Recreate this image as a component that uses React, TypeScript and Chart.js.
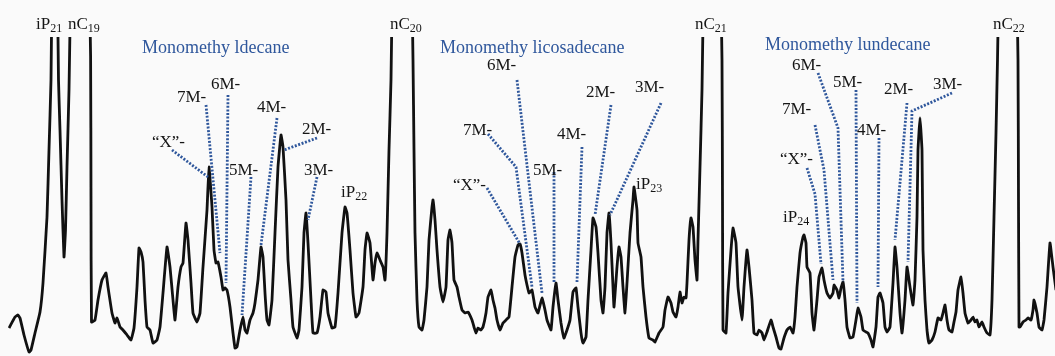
import React, { useEffect, useRef } from "react";
import { Chart, registerables } from "chart.js";

Chart.register(...registerables);

// Chromatogram trace: [scan position, detector response]
const trace: [number, number][] = [
  [9, 28], [15, 39], [18, 41], [20, 38], [24, 21], [29, 4], [31, 6], [35, 23], [40, 44], [43, 73],
  [47, 139], [49, 206], [51, 276], [54.5, 600], [58.5, 276], [60, 226], [62, 156], [64, 99], [65.5, 126],
  [67, 189], [69, 266], [80, 900], [90.6, 300], [91, 156], [91.5, 34],
  [95, 36], [98, 56], [102, 76], [106, 83], [108, 69], [112, 43], [115, 33], [117, 38], [120, 29],
  [123, 26], [127, 21], [131, 16], [134, 28], [137, 69], [139, 108], [141, 104], [143, 94], [145, 56],
  [147, 29], [150, 26], [153, 13], [157, 16], [160, 29], [163, 63], [167, 109], [170, 89], [173, 56],
  [175, 36], [178, 69], [181, 89], [183, 93], [186, 133], [188, 116], [191, 73], [193, 43], [197, 34],
  [200, 43], [203, 89], [207, 146], [209, 189], [212, 149], [214, 106], [216, 93], [218, 94], [221, 79],
  [223, 66], [225, 68], [227, 66], [230, 49], [233, 23], [235, 8], [237, 9], [240, 26], [243, 39],
  [245, 26], [247, 23], [250, 36], [253, 43], [255, 53], [258, 76], [261, 109], [263, 99], [265, 63],
  [267, 36], [269, 31], [272, 56], [275, 123], [278, 189], [281, 221], [283, 209], [286, 156], [288, 96],
  [291, 56], [293, 29], [297, 18], [299, 26], [302, 69], [304, 123], [306, 143], [308, 113], [311, 56],
  [313, 23], [317, 23], [320, 39], [323, 66], [326, 64], [328, 43], [332, 28], [335, 29], [338, 63],
  [342, 123], [345, 149], [347, 143], [350, 106], [353, 63], [356, 39], [359, 43], [363, 69], [365, 106],
  [367, 123], [370, 113], [373, 76], [375, 93], [377, 103], [380, 96], [383, 89], [385, 76], [387, 123],
  [389, 206], [391, 276], [402, 1000], [413, 296], [414, 206], [415, 123], [417, 56], [419, 29],
  [422, 26], [424, 36], [427, 69], [429, 116], [432, 149], [433, 156], [435, 136], [437, 106], [440, 69],
  [443, 54], [446, 69], [448, 116], [450, 126], [452, 113], [454, 76], [457, 69], [459, 59], [462, 46],
  [465, 43], [468, 44], [472, 36], [474, 29], [476, 23], [478, 28], [481, 26], [483, 29], [486, 43],
  [488, 59], [491, 66], [493, 56], [495, 48], [497, 36], [500, 26], [503, 33], [506, 36], [509, 39],
  [512, 69], [515, 99], [518, 111], [520, 112], [522, 103], [525, 81], [527, 71], [529, 63], [532, 66],
  [535, 49], [538, 43], [542, 58], [545, 46], [547, 36], [551, 26], [553, 49], [556, 73], [558, 56],
  [561, 33], [564, 18], [567, 26], [570, 36], [573, 64], [576, 68], [578, 49], [581, 23], [583, 13],
  [586, 19], [588, 56], [591, 106], [593, 138], [596, 129], [598, 103], [601, 56], [603, 43], [605, 69],
  [607, 123], [609, 143], [611, 113], [613, 69], [614, 49], [617, 89], [619, 109], [621, 99], [623, 69],
  [625, 43], [627, 73], [630, 123], [633, 156], [634, 169], [637, 146], [638, 113], [641, 99], [643, 69],
  [646, 39], [649, 18], [653, 16], [655, 14], [659, 23], [663, 29], [665, 46], [668, 59], [671, 53],
  [673, 44], [676, 39], [678, 49], [680, 64], [682, 53], [684, 59], [686, 58], [687, 73], [689, 116],
  [691, 138], [693, 129], [695, 96], [697, 76], [698, 116], [700, 189], [702, 266], [712, 900],
  [722, 296], [722.5, 156], [723, 26], [726, 23], [728, 63], [731, 106], [733, 128], [736, 113],
  [738, 69], [742, 36], [744, 69], [747, 106], [749, 89], [752, 56], [754, 23], [757, 21], [759, 26],
  [762, 23], [764, 16], [767, 24], [771, 36], [773, 29], [776, 19], [779, 8], [781, 7], [784, 18],
  [787, 26], [790, 29], [793, 23], [795, 39], [797, 69], [800, 103], [803, 119], [804, 121], [806, 113],
  [807, 89], [810, 83], [812, 43], [814, 26], [817, 56], [819, 79], [822, 88], [824, 76], [827, 63],
  [830, 58], [833, 63], [834, 71], [837, 66], [839, 58], [841, 68], [843, 74], [845, 56], [847, 29],
  [850, 18], [853, 19], [856, 36], [858, 48], [861, 39], [863, 26], [866, 24], [868, 23], [871, 16],
  [873, 9], [876, 29], [878, 59], [880, 63], [883, 53], [885, 29], [887, 24], [890, 29], [893, 73],
  [895, 109], [897, 89], [900, 43], [902, 23], [905, 56], [907, 89], [910, 69], [913, 51], [915, 76],
  [917, 139], [918, 206], [920, 238], [922, 206], [923, 106], [925, 56], [927, 26], [929, 13], [932, 16],
  [935, 24], [938, 38], [941, 36], [943, 43], [945, 51], [947, 36], [949, 26], [952, 24], [954, 34],
  [956, 44], [958, 66], [961, 79], [963, 63], [965, 43], [968, 33], [971, 36], [973, 39], [975, 34],
  [977, 36], [979, 29], [982, 34], [984, 29], [987, 23], [990, 21], [992, 56], [994, 139], [996, 223],
  [997.5, 296], [1008, 900], [1018, 296], [1018.5, 156], [1019, 29], [1020, 29], [1023, 34], [1026, 36],
  [1028, 38], [1031, 36], [1033, 46], [1034, 56], [1037, 43], [1039, 29], [1042, 26], [1044, 36],
  [1047, 69], [1050, 113], [1053, 89], [1056, 66],
];

// Leader lines from each monomethyl label to its peak (label end first)
const leadersC19: [number, number][][] = [
  [[172, 206], [208, 179]],
  [[206, 251], [220, 103]],
  [[228, 261], [226, 73]],
  [[251, 179], [242, 41]],
  [[277, 238], [261, 111]],
  [[317, 218], [284, 206]],
  [[317, 179], [308, 136]],
];
const leadersC20: [number, number][][] = [
  [[517, 276], [542, 63]],
  [[488, 222], [516, 189], [532, 69]],
  [[487, 168], [520, 112]],
  [[554, 184], [554, 74]],
  [[582, 209], [577, 74]],
  [[611, 251], [595, 141]],
  [[661, 253], [610, 141]],
];
const leadersC21: [number, number][][] = [
  [[818, 283], [838, 228], [843, 74]],
  [[815, 231], [824, 186], [833, 76]],
  [[807, 188], [815, 162], [821, 92]],
  [[856, 266], [857, 53]],
  [[879, 218], [878, 69]],
  [[907, 253], [895, 116]],
  [[952, 263], [912, 245], [908, 94]],
];

// Peak labels: text, subscript, anchor (scan position, response)
const peakLabels: { text: string; sub?: string; x: number; y: number }[] = [
  { text: "iP", sub: "21", x: 36, y: 327 },
  { text: "nC", sub: "19", x: 68, y: 327 },
  { text: "nC", sub: "20", x: 390, y: 327 },
  { text: "nC", sub: "21", x: 695, y: 327 },
  { text: "nC", sub: "22", x: 993, y: 327 },
  { text: "7M-", x: 177, y: 254 },
  { text: "6M-", x: 211, y: 267 },
  { text: "4M-", x: 257, y: 244 },
  { text: "2M-", x: 302, y: 222 },
  { text: "\u201CX\u201D-", x: 152, y: 209 },
  { text: "5M-", x: 229, y: 181 },
  { text: "3M-", x: 304, y: 181 },
  { text: "iP", sub: "22", x: 341, y: 159 },
  { text: "6M-", x: 487, y: 286 },
  { text: "2M-", x: 586, y: 259 },
  { text: "3M-", x: 635, y: 264 },
  { text: "7M-", x: 463, y: 221 },
  { text: "4M-", x: 557, y: 217 },
  { text: "5M-", x: 533, y: 181 },
  { text: "\u201CX\u201D-", x: 453, y: 166 },
  { text: "iP", sub: "23", x: 636, y: 167 },
  { text: "6M-", x: 792, y: 286 },
  { text: "5M-", x: 833, y: 269 },
  { text: "2M-", x: 884, y: 262 },
  { text: "3M-", x: 933, y: 267 },
  { text: "7M-", x: 782, y: 242 },
  { text: "4M-", x: 857, y: 221 },
  { text: "\u201CX\u201D-", x: 780, y: 192 },
  { text: "iP", sub: "24", x: 783, y: 134 },
];

const seriesTitles: { text: string; x: number; y: number }[] = [
  { text: "Monomethy ldecane", x: 142, y: 303 },
  { text: "Monomethy licosadecane", x: 440, y: 303 },
  { text: "Monomethy lundecane", x: 765, y: 306 },
];

const SERIF = '"Liberation Serif", "Times New Roman", serif';
const BLUE = "#2f579c";

const labelPlugin = {
  id: "peakLabels",
  afterDatasetsDraw(chart: any) {
    const { ctx, scales } = chart;
    const xs = scales.x;
    const ys = scales.y;
    ctx.save();
    ctx.textAlign = "left";
    ctx.textBaseline = "alphabetic";
    ctx.fillStyle = "#151515";
    for (const l of peakLabels) {
      const px = xs.getPixelForValue(l.x);
      const py = ys.getPixelForValue(l.y);
      ctx.font = `17px ${SERIF}`;
      ctx.fillText(l.text, px, py);
      if (l.sub) {
        const w = ctx.measureText(l.text).width;
        ctx.font = `12px ${SERIF}`;
        ctx.fillText(l.sub, px + w, py + 3);
      }
    }
    ctx.fillStyle = BLUE;
    ctx.font = `18px ${SERIF}`;
    for (const t of seriesTitles) {
      ctx.fillText(t.text, xs.getPixelForValue(t.x), ys.getPixelForValue(t.y));
    }
    ctx.restore();
  },
};

export default function App() {
  const ref = useRef<HTMLCanvasElement | null>(null);

  useEffect(() => {
    document.body.style.margin = "0";
    document.body.style.background = "#fafafa";
    const canvas = ref.current;
    if (!canvas) return;
    const leaderSets = [...leadersC19, ...leadersC20, ...leadersC21].map((seg) => ({
      data: seg.map(([x, y]) => ({ x, y })),
      borderColor: BLUE,
      borderWidth: 2.8,
      borderDash: [2, 1.6],
      borderCapStyle: "butt" as const,
      pointRadius: 0,
      tension: 0,
      order: 1,
    }));
    const chart = new Chart(canvas, {
      type: "line",
      data: {
        datasets: [
          {
            data: trace.map(([x, y]) => ({ x, y })),
            borderColor: "#111",
            borderWidth: 2.8,
            borderJoinStyle: "round",
            pointRadius: 0,
            tension: 0.1,
            order: 2,
          },
          ...leaderSets,
        ],
      },
      options: {
        animation: false,
        responsive: false,
        events: [],
        layout: { padding: { top: 37, left: 0, right: 0, bottom: 0 } },
        scales: {
          x: { type: "linear", min: 0, max: 1055, display: false },
          y: { type: "linear", min: 0, max: 319, display: false },
        },
        plugins: { legend: { display: false }, tooltip: { enabled: false } },
      },
      plugins: [labelPlugin],
    });
    return () => chart.destroy();
  }, []);

  return (
    <div style={{ width: 1055, height: 356, background: "#fafafa" }}>
      <canvas ref={ref} width={1055} height={356} style={{ display: "block" }} />
    </div>
  );
}
